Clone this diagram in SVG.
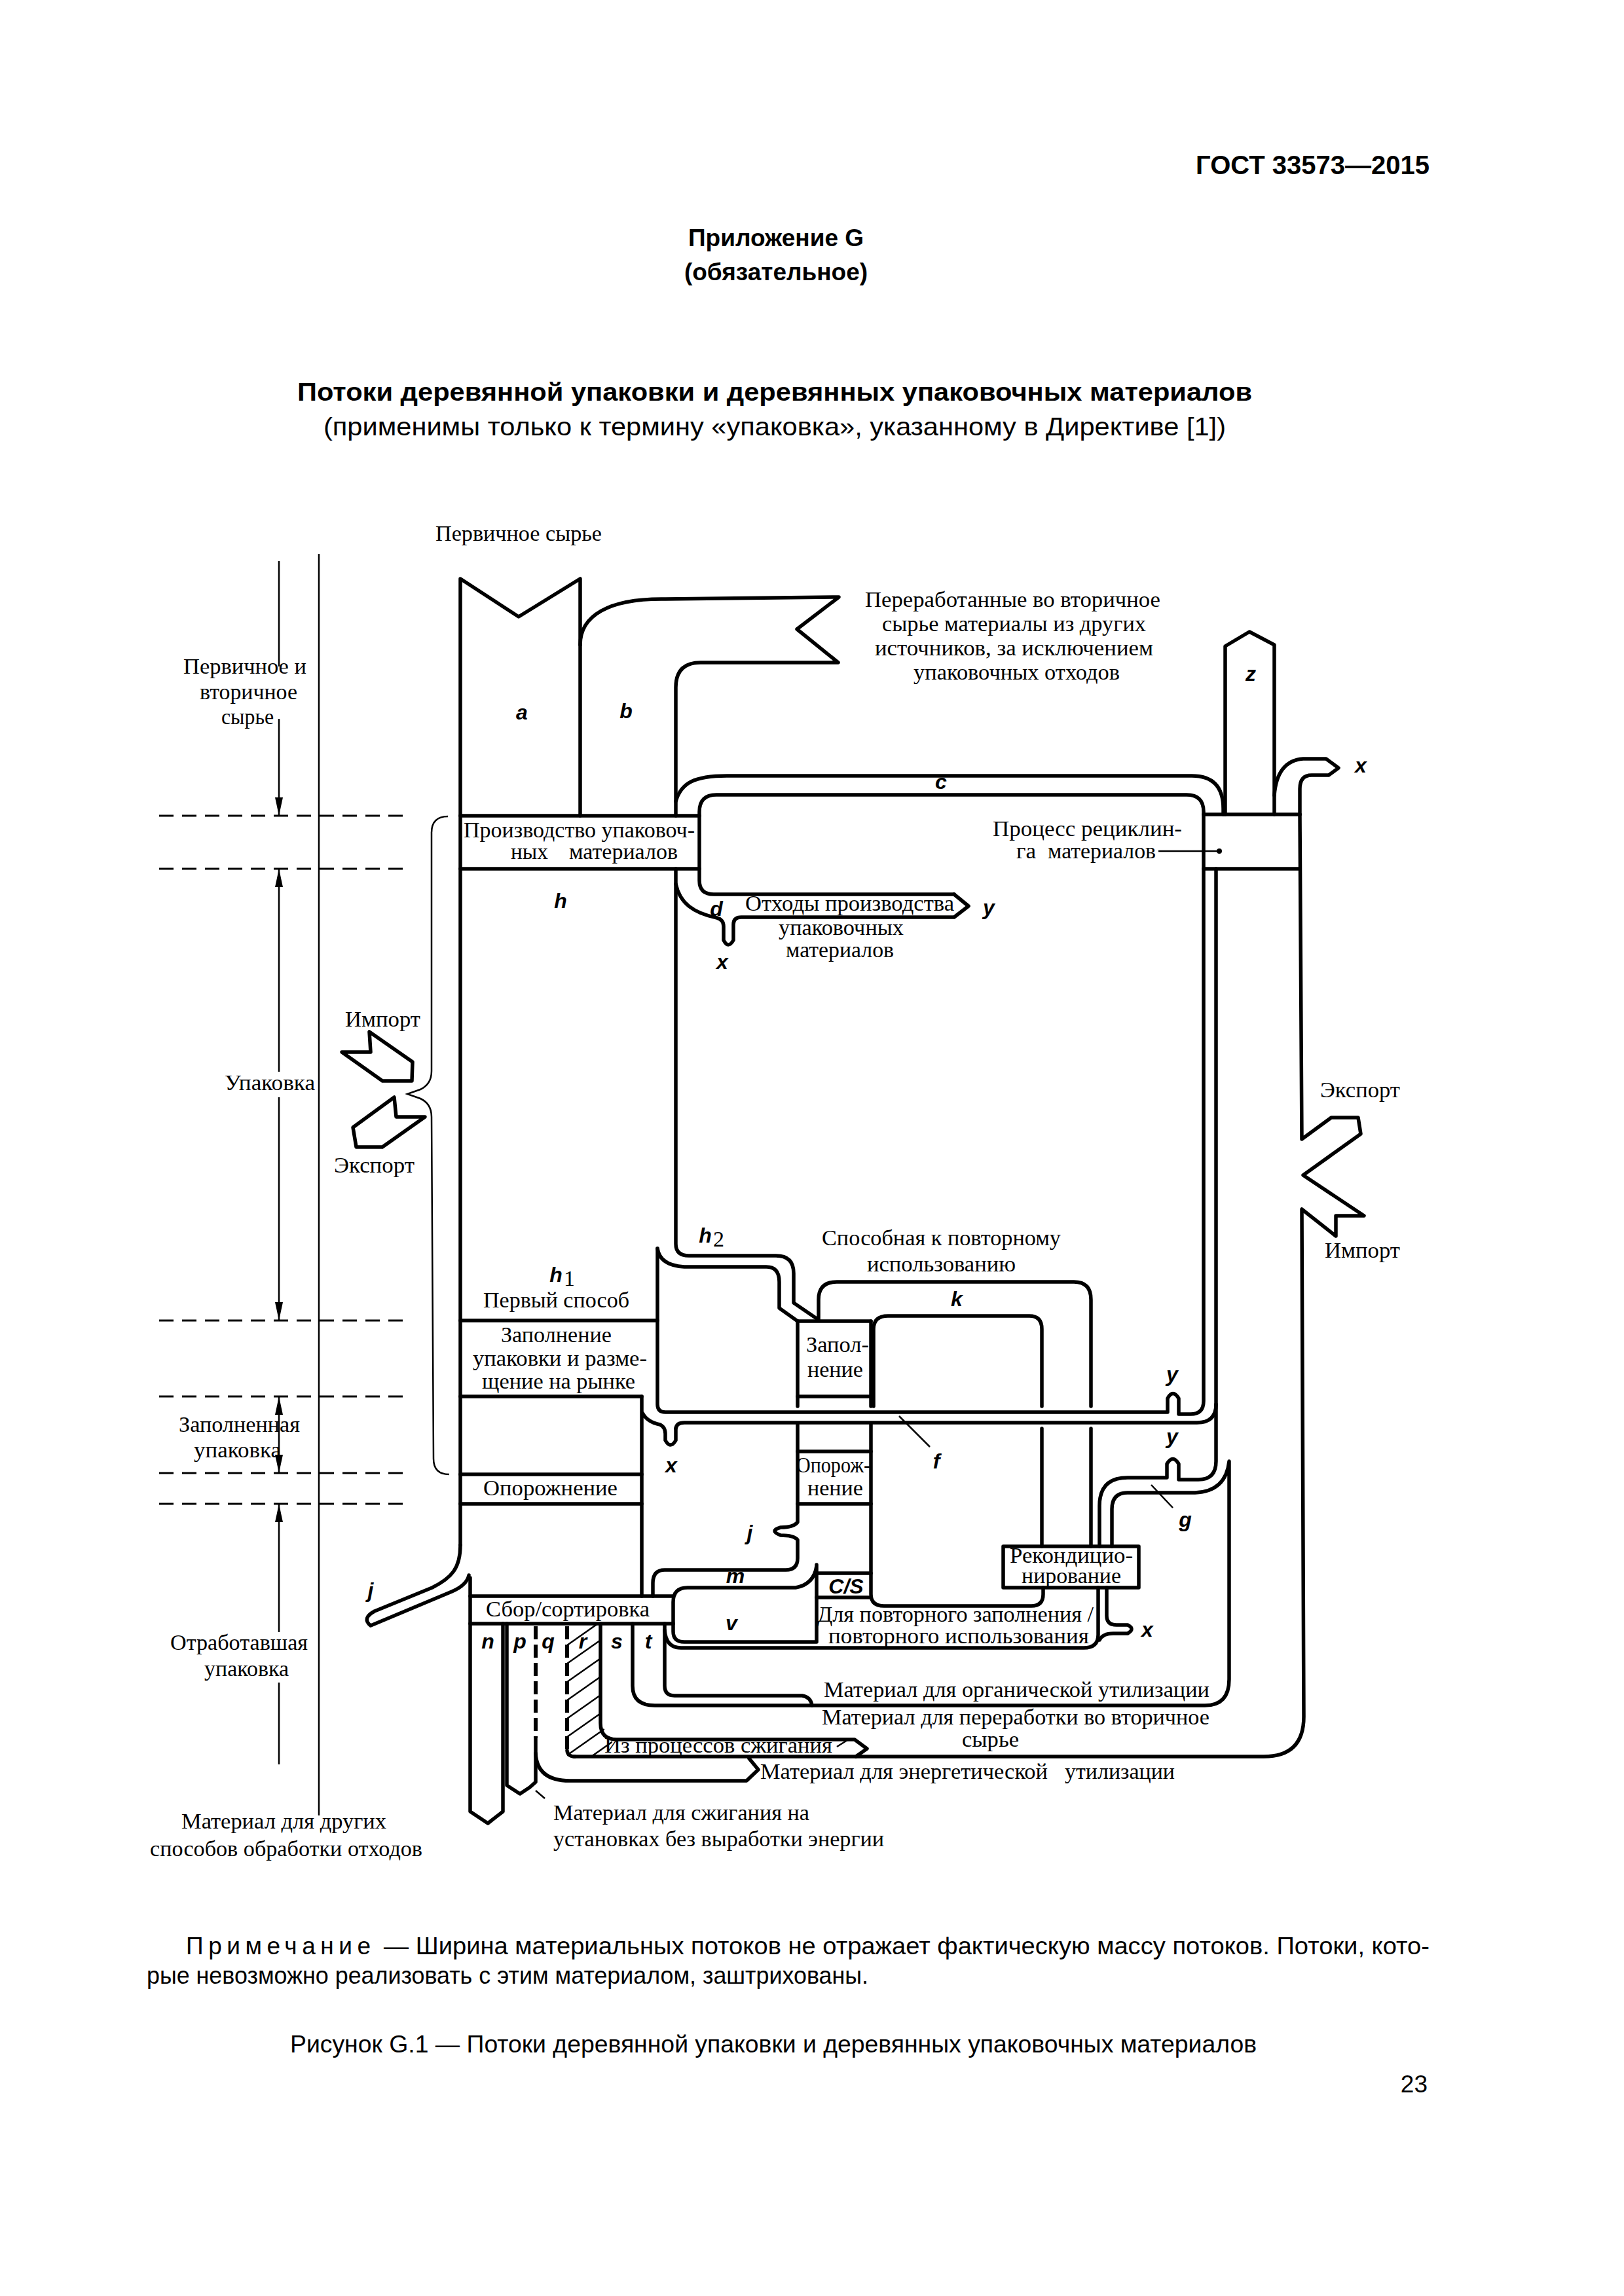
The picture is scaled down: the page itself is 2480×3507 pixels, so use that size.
<svg xmlns="http://www.w3.org/2000/svg" width="2480" height="3507" viewBox="0 0 2480 3507">
<defs>
<style>
.fl{fill:none;stroke:#000;stroke-width:5.5;stroke-linejoin:round;stroke-linecap:round}
.th{fill:none;stroke:#000;stroke-width:2.5}
.ds{fill:none;stroke:#000;stroke-width:3;stroke-dasharray:22 13}
.dq{fill:none;stroke:#000;stroke-width:6;stroke-dasharray:20 8}
.t{font-family:"Liberation Serif","Times New Roman",serif;font-size:34px;fill:#000}
.l{font-family:"Liberation Sans",Arial,sans-serif;font-size:32px;font-weight:bold;font-style:italic;fill:#000;text-anchor:middle}
.h{font-family:"Liberation Sans",Arial,sans-serif;fill:#000}
</style>
<marker id="ah" viewBox="0 0 28 12" refX="28" refY="6" markerWidth="28" markerHeight="12" markerUnits="userSpaceOnUse" orient="auto-start-reverse"><path d="M0,0 L28,6 L0,12 z" fill="#000"/></marker>
<clipPath id="rclip"><polygon points="866,2480 918,2480 918,2635 935,2657 935,2683 866,2683"/></clipPath>
</defs>
<rect width="2480" height="3507" fill="#fff"/>

<g id="header">
<text class="h" x="2183" y="266" text-anchor="end" font-size="40" font-weight="bold">ГОСТ 33573—2015</text>
<text class="h" x="1185" y="376" text-anchor="middle" font-size="37" font-weight="bold">Приложение G</text>
<text class="h" x="1185" y="428" text-anchor="middle" font-size="37" font-weight="bold">(обязательное)</text>
<text class="h" x="454" y="612" font-size="39" font-weight="bold" textLength="1458" lengthAdjust="spacingAndGlyphs">Потоки деревянной упаковки и деревянных упаковочных материалов</text>
<text class="h" x="494" y="665" font-size="39" textLength="1378" lengthAdjust="spacingAndGlyphs">(применимы только к термину «упаковка», указанному в Директиве [1])</text>
</g>

<g id="scale">
<line class="th" x1="487" y1="846" x2="487" y2="2773"/>
<g class="ds">
<line x1="243" y1="1246" x2="618" y2="1246"/>
<line x1="243" y1="1327" x2="618" y2="1327"/>
<line x1="243" y1="2017" x2="618" y2="2017"/>
<line x1="243" y1="2133" x2="618" y2="2133"/>
<line x1="243" y1="2250" x2="618" y2="2250"/>
<line x1="243" y1="2297" x2="618" y2="2297"/>
</g>
<g class="th">
<path d="M426 857 L426 1018"/>
<path d="M426 1098 L426 1246" marker-end="url(#ah)"/>
<path d="M426 1327 L426 1637" marker-start="url(#ah)"/>
<path d="M426 1676 L426 2017" marker-end="url(#ah)"/>
<path d="M426 2133 L426 2250" marker-start="url(#ah)" marker-end="url(#ah)"/>
<path d="M426 2297 L426 2493" marker-start="url(#ah)"/>
<path d="M426 2570 L426 2695"/>
</g>
<text class="t" x="280" y="1029" font-size="33" textLength="188" lengthAdjust="spacingAndGlyphs">Первичное и</text>
<text class="t" x="305" y="1068" font-size="33" textLength="149" lengthAdjust="spacingAndGlyphs">вторичное</text>
<text class="t" x="338" y="1106" font-size="33" textLength="80" lengthAdjust="spacingAndGlyphs">сырье</text>
<text class="t" x="343" y="1665" textLength="138" lengthAdjust="spacingAndGlyphs">Упаковка</text>
<text class="t" x="273" y="2187" textLength="185" lengthAdjust="spacingAndGlyphs">Заполненная</text>
<text class="t" x="296" y="2226" textLength="133" lengthAdjust="spacingAndGlyphs">упаковка</text>
<text class="t" x="260" y="2520" textLength="210" lengthAdjust="spacingAndGlyphs">Отработавшая</text>
<text class="t" x="312" y="2560" textLength="129" lengthAdjust="spacingAndGlyphs">упаковка</text>
<text class="t" x="277" y="2793" textLength="313" lengthAdjust="spacingAndGlyphs">Материал для других</text>
<text class="t" x="229" y="2835" textLength="416" lengthAdjust="spacingAndGlyphs">способов обработки отходов</text>
<path class="th" d="M684 1247 Q659 1247 659 1272 L659 1636 Q659 1656 642 1664 L622 1671 L642 1678 Q659 1686 659 1706 L662 2228 Q662 2252 686 2252"/>
<polygon class="fl" points="564,1576 566,1607 522,1607 584,1651 629,1651 630,1622"/>
<polygon class="fl" points="602,1676 605,1706 649,1706 584,1752 544,1752 539,1722"/>
<text class="t" x="527" y="1568" textLength="115" lengthAdjust="spacingAndGlyphs">Импорт</text>
<text class="t" x="510" y="1791" textLength="123" lengthAdjust="spacingAndGlyphs">Экспорт</text>
</g>

<g id="node-production">
<path class="fl" d="M703 1246 L1068 1246 M703 1327 L1068 1327"/>
<text class="t" x="708" y="1279" font-size="28" textLength="353" lengthAdjust="spacingAndGlyphs">Производство упаковоч-</text>
<text class="t" x="780" y="1312" font-size="28" textLength="57" lengthAdjust="spacingAndGlyphs">ных</text>
<text class="t" x="869" y="1312" font-size="28" textLength="166" lengthAdjust="spacingAndGlyphs">материалов</text>
</g>

<g id="node-recycling">
<path class="fl" d="M1838 1244 L1985 1244 M1838 1327 L1985 1327"/>
<text class="t" x="1516" y="1277" font-size="30" textLength="289" lengthAdjust="spacingAndGlyphs">Процесс рециклин-</text>
<text class="t" x="1552" y="1311" font-size="30" textLength="30" lengthAdjust="spacingAndGlyphs">га</text>
<text class="t" x="1600" y="1311" font-size="30" textLength="165" lengthAdjust="spacingAndGlyphs">материалов</text>
<path class="th" d="M1769 1300 L1862 1300"/>
<circle cx="1862" cy="1300" r="4"/>
</g>

<g id="node-first-way">
<path class="fl" d="M703 2017 L1004 2017"/>
<text class="t" x="738" y="1997" textLength="223" lengthAdjust="spacingAndGlyphs">Первый способ</text>
</g>

<g id="node-filling-market">
<path class="fl" d="M703 2133 L980 2133"/>
<text class="t" x="765" y="2050" font-size="31" textLength="169" lengthAdjust="spacingAndGlyphs">Заполнение</text>
<text class="t" x="722" y="2086" font-size="31" textLength="266" lengthAdjust="spacingAndGlyphs">упаковки и разме-</text>
<text class="t" x="736" y="2121" font-size="31" textLength="234" lengthAdjust="spacingAndGlyphs">щение на рынке</text>
</g>

<g id="node-emptying">
<path class="fl" d="M703 2252 L980 2252 M703 2297 L980 2297"/>
<text class="t" x="738" y="2284" textLength="205" lengthAdjust="spacingAndGlyphs">Опорожнение</text>
</g>

<g id="node-collection">
<path class="fl" d="M718 2438 L1028 2438 M718 2480 L1028 2480"/>
<text class="t" x="742" y="2469" textLength="250" lengthAdjust="spacingAndGlyphs">Сбор/сортировка</text>
</g>

<g id="node-refilling">
<path class="fl" d="M1218 2018 L1330 2018 M1218 2133 L1330 2133"/>
<text class="t" x="1231" y="2065" font-size="31" textLength="96" lengthAdjust="spacingAndGlyphs">Запол-</text>
<text class="t" x="1233" y="2103" font-size="31" textLength="85" lengthAdjust="spacingAndGlyphs">нение</text>
</g>

<g id="node-emptying-reuse">
<path class="fl" d="M1218 2217 L1330 2217 M1218 2297 L1330 2297"/>
<text class="t" x="1216" y="2249" font-size="28" textLength="113" lengthAdjust="spacingAndGlyphs">Опорож-</text>
<text class="t" x="1233" y="2284" font-size="28" textLength="85" lengthAdjust="spacingAndGlyphs">нение</text>
</g>

<g id="node-cs">
<path class="fl" d="M1247 2403 L1330 2403 M1247 2440 L1330 2440"/>
<text class="l" x="1292" y="2434">C/S</text>
</g>

<g id="node-recondition">
<rect class="fl" x="1532" y="2362" width="207" height="63" fill="#fff"/>
<text class="t" x="1542" y="2387" font-size="27" textLength="188" lengthAdjust="spacingAndGlyphs">Рекондицио-</text>
<text class="t" x="1560" y="2418" font-size="27" textLength="152" lengthAdjust="spacingAndGlyphs">нирование</text>
</g>

<g id="connectors">
<path class="fl" d="M703 2360 L703 884 L792 942 L886 884 L886 1246"/>
<path class="fl" d="M886 985 C886 940 930 915 1010 915 L1281 912 L1217 961 L1280 1012 L1070 1012 Q1032 1012 1032 1050 L1032 1246"/>
<path class="fl" d="M1032 1224 C1040 1196 1060 1185 1110 1185 L1820 1185 Q1868 1185 1868 1235 L1868 1244"/>
<path class="fl" d="M1457 1366 L1090 1366 Q1068 1366 1068 1345 L1068 1240 Q1068 1214 1094 1214 L1812 1214 Q1838 1214 1838 1240 L1838 2140 Q1838 2160 1818 2160 L1800 2160 L1800 2136 Q1791 2121 1783 2136 L1783 2157 L1016 2157 Q1004 2157 1004 2145 L1004 1907"/>
<path class="fl" d="M1457 1366 L1479 1384 L1457 1401 L1132 1401 Q1120 1401 1120 1412 L1120 1436 Q1112 1450 1105 1436 L1105 1415 Q1105 1405 1095 1402 C1060 1395 1038 1380 1032 1350"/>
<path class="fl" d="M1032 1327 L1032 1900 Q1032 1918 1052 1918 L1185 1918 Q1212 1918 1212 1945 L1212 1990 L1250 2016 L1250 1985 Q1250 1958 1278 1958 L1640 1958 Q1666 1958 1666 1985 L1666 2148"/>
<path class="fl" d="M1666 2182 L1666 2362"/>
<path class="fl" d="M1004 1907 Q1008 1933 1045 1935 L1170 1935 Q1190 1935 1190 1958 L1190 1998 L1218 2018"/>
<path class="fl" d="M1218 2018 L1218 2148 M1330 2018 L1330 2148"/>
<path class="fl" d="M1218 2175 L1218 2325 Q1212 2333 1192 2333 Q1174 2338 1192 2345 Q1212 2345 1218 2352 L1218 2380 Q1218 2398 1200 2398 L1015 2398 Q997 2398 997 2418 L997 2438"/>
<path class="fl" d="M1334 2148 L1334 2030 Q1334 2010 1356 2010 L1572 2010 Q1591 2010 1591 2030 L1591 2148"/>
<path class="fl" d="M1591 2182 L1591 2362"/>
<path class="fl" d="M1330 2175 L1330 2435 Q1330 2453 1350 2453 L1575 2453 Q1593 2453 1593 2435 L1593 2425"/>
<path class="fl" d="M1247 2390 L1247 2508 L1045 2508 Q1028 2508 1028 2492 L1028 2447 Q1028 2425 1050 2425 L1215 2425 Q1243 2420 1247 2392"/>
<path class="fl" d="M1032 2182 Q1033 2173 1045 2173 L1828 2173 Q1857 2173 1857 2145"/>
<path class="fl" d="M980 2133 L980 2438 M981 2158 Q988 2172 1008 2176 Q1016 2180 1016 2190 L1016 2200 Q1024 2214 1032 2200 L1032 2182"/>
<path class="fl" d="M1857 1327 L1857 2232 Q1857 2260 1830 2260 L1800 2260 L1800 2236 Q1791 2221 1782 2236 L1782 2257 L1722 2257 Q1679 2257 1679 2300 L1679 2362"/>
<path class="fl" d="M1698 2362 L1698 2305 Q1698 2280 1722 2280 L1825 2280 Q1872 2278 1877 2232 L1877 2565 Q1877 2605 1840 2605 L1000 2605 Q966 2605 966 2575 L966 2480"/>
<path class="th" d="M1758 2268 L1791 2303"/>
<path class="th" d="M1373 2163 L1420 2210"/>
<path class="fl" d="M1871 1244 L1871 987 L1908 965 L1946 985 L1946 1244"/>
<path class="fl" d="M1946 1215 Q1950 1162 1990 1159 L2025 1159 L2044 1173 L2029 1184 L2003 1184 Q1985 1184 1985 1205 L1985 1244"/>
<path class="fl" d="M1985 1244 L1988 1740 L2033 1707 L2074 1707 L2078 1732 L1990 1795 L2083 1857 L2040 1857 L2040 1888 L1988 1847 L1991 2622 Q1991 2683 1930 2683 L876 2683"/>
<path class="fl" d="M1677 2425 L1677 2497 Q1677 2517 1655 2517 L1040 2517 Q1017 2517 1015 2490"/>
<path class="fl" d="M1690 2425 L1690 2468 Q1690 2482 1705 2482 L1722 2482 Q1734 2488 1722 2495 L1700 2495 Q1684 2495 1679 2505"/>
<path class="fl" d="M703 2360 C703 2395 690 2410 660 2425 L572 2461 Q552 2472 566 2483 L690 2431 Q713 2421 716 2406"/>
<path class="fl" d="M718 2410 L718 2767 L745 2785 L768 2767 L768 2480"/>
<path class="fl" d="M774 2480 L774 2727 L794 2740 L809 2730 L818 2722 L818 2655"/>
<path class="th" d="M818 2735 L832 2747"/>
<path class="dq" d="M818 2484 L818 2655"/>
<path class="fl" d="M818 2678 Q820 2720 870 2720 L1140 2720 L1158 2703 L1144 2686"/>
<path class="dq" d="M866 2484 L866 2672"/>
<path class="fl" d="M866 2674 Q867 2683 878 2683"/>
<g clip-path="url(#rclip)" class="th">
<path d="M856 2520 L940 2461 M856 2548 L940 2489 M856 2576 L940 2517 M856 2604 L940 2545 M856 2632 L940 2573 M856 2660 L940 2601 M856 2688 L940 2629 M856 2716 L940 2657 M856 2744 L940 2685"/>
</g>
<path class="fl" d="M917 2480 L917 2632 Q917 2657 942 2657 L1305 2657 L1324 2671 L1307 2683"/>
<path class="th" d="M1278 2668 L1294 2658"/>
<path class="fl" d="M1015 2480 L1015 2575 Q1015 2590 1030 2590 L1225 2590 Q1238 2592 1240 2605"/>
</g>

<g id="flow-labels">
<text class="t" x="665" y="826" textLength="254" lengthAdjust="spacingAndGlyphs">Первичное сырье</text>
<text class="t" x="1321" y="927" font-size="33" textLength="451" lengthAdjust="spacingAndGlyphs">Переработанные во вторичное</text>
<text class="t" x="1347" y="964" font-size="33" textLength="403" lengthAdjust="spacingAndGlyphs">сырье материалы из других</text>
<text class="t" x="1336" y="1001" font-size="33" textLength="425" lengthAdjust="spacingAndGlyphs">источников, за исключением</text>
<text class="t" x="1395" y="1038" font-size="33" textLength="315" lengthAdjust="spacingAndGlyphs">упаковочных отходов</text>
<text class="t" x="1138" y="1391" font-size="31" textLength="319" lengthAdjust="spacingAndGlyphs">Отходы производства</text>
<text class="t" x="1189" y="1428" font-size="31" textLength="191" lengthAdjust="spacingAndGlyphs">упаковочных</text>
<text class="t" x="1200" y="1462" font-size="31" textLength="165" lengthAdjust="spacingAndGlyphs">материалов</text>
<text class="t" x="2016" y="1676" textLength="122" lengthAdjust="spacingAndGlyphs">Экспорт</text>
<text class="t" x="2023" y="1921" textLength="115" lengthAdjust="spacingAndGlyphs">Импорт</text>
<text class="t" x="1255" y="1902" textLength="365" lengthAdjust="spacingAndGlyphs">Способная к повторному</text>
<text class="t" x="1324" y="1942" textLength="227" lengthAdjust="spacingAndGlyphs">использованию</text>
<text class="t" x="1248" y="2477" font-size="30" textLength="422" lengthAdjust="spacingAndGlyphs">Для повторного заполнения /</text>
<text class="t" x="1265" y="2510" font-size="30" textLength="398" lengthAdjust="spacingAndGlyphs">повторного  использования</text>
<text class="t" x="1258" y="2592" textLength="589" lengthAdjust="spacingAndGlyphs">Материал для органической утилизации</text>
<text class="t" x="1255" y="2634" font-size="31" textLength="592" lengthAdjust="spacingAndGlyphs">Материал для переработки во вторичное</text>
<text class="t" x="1469" y="2668" font-size="31" textLength="87" lengthAdjust="spacingAndGlyphs">сырье</text>
<text class="t" x="923" y="2677" font-size="31" textLength="348" lengthAdjust="spacingAndGlyphs">Из процессов сжигания</text>
<text class="t" x="1161" y="2717" textLength="439" lengthAdjust="spacingAndGlyphs">Материал для энергетической</text>
<text class="t" x="1626" y="2717" textLength="168" lengthAdjust="spacingAndGlyphs">утилизации</text>
<text class="t" x="845" y="2780" textLength="391" lengthAdjust="spacingAndGlyphs">Материал для сжигания на</text>
<text class="t" x="845" y="2820" textLength="505" lengthAdjust="spacingAndGlyphs">установках без выработки энергии</text>

<text class="l" x="797" y="1099">a</text>
<text class="l" x="956" y="1097">b</text>
<text class="l" x="856" y="1387">h</text>
<text class="l" x="1437" y="1205" font-size="28">c</text>
<text class="l" x="1910" y="1040">z</text>
<text class="l" x="2078" y="1180">x</text>
<text class="l" x="1094" y="1399">d</text>
<text class="l" x="1510" y="1397">y</text>
<text class="l" x="1103" y="1480">x</text>
<text class="l" x="1077" y="1898">h</text><text class="t" x="1089" y="1904" font-size="24">2</text>
<text class="l" x="849" y="1958">h</text><text class="t" x="861" y="1964" font-size="24">1</text>
<text class="l" x="1461" y="1995">k</text>
<text class="l" x="1430" y="2243">f</text>
<text class="l" x="1790" y="2110">y</text>
<text class="l" x="1790" y="2205">y</text>
<text class="l" x="1810" y="2332">g</text>
<text class="l" x="1025" y="2249">x</text>
<text class="l" x="1145" y="2352">j</text>
<text class="l" x="1123" y="2418">m</text>
<text class="l" x="1117" y="2490">v</text>
<text class="l" x="1752" y="2500">x</text>
<text class="l" x="566" y="2440">j</text>
<text class="l" x="745" y="2518">n</text>
<text class="l" x="794" y="2518">p</text>
<text class="l" x="837" y="2518">q</text>
<text class="l" x="890" y="2518">r</text>
<text class="l" x="942" y="2518">s</text>
<text class="l" x="990" y="2518">t</text>
</g>

<g id="footer">
<text class="h" x="284" y="2985" font-size="37" textLength="282" lengthAdjust="spacing">Примечание</text>
<text class="h" x="586" y="2985" font-size="37" textLength="1597" lengthAdjust="spacingAndGlyphs">— Ширина материальных потоков не отражает фактическую массу потоков. Потоки, кото-</text>
<text class="h" x="224" y="3030" font-size="37" textLength="1102" lengthAdjust="spacingAndGlyphs">рые невозможно реализовать с этим материалом, заштрихованы.</text>
<text class="h" x="443" y="3135" font-size="37" textLength="1476" lengthAdjust="spacingAndGlyphs">Рисунок G.1 — Потоки деревянной упаковки и деревянных упаковочных материалов</text>
<text class="h" x="2180" y="3196" text-anchor="end" font-size="37">23</text>
</g>
</svg>
